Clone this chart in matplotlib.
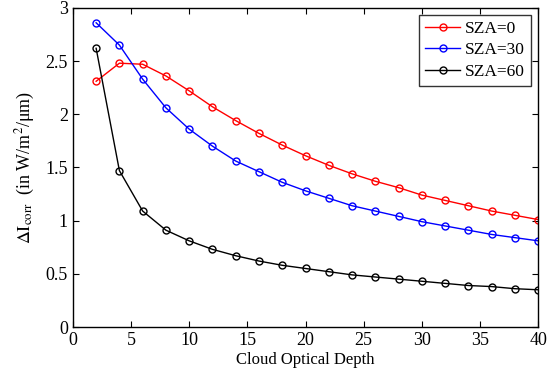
import matplotlib
matplotlib.use("Agg")
import matplotlib.pyplot as plt

plt.rcParams['font.family'] = ['Liberation Serif', 'DejaVu Serif']
plt.rcParams['mathtext.fontset'] = 'stix'

depth = [2, 4, 6, 8, 10, 12, 14, 16, 18, 20, 22, 24, 26, 28, 30, 32, 34, 36, 38, 40]
sza0 = [2.31, 2.48, 2.47, 2.36, 2.22, 2.07, 1.94, 1.82, 1.71, 1.61, 1.52, 1.44, 1.37, 1.31, 1.24, 1.19, 1.14, 1.09, 1.05, 1.01]
sza30 = [2.86, 2.65, 2.33, 2.06, 1.86, 1.70, 1.56, 1.46, 1.36, 1.28, 1.21, 1.14, 1.09, 1.04, 0.99, 0.95, 0.91, 0.87, 0.84, 0.81]
sza60 = [2.62, 1.47, 1.09, 0.91, 0.81, 0.73, 0.67, 0.62, 0.58, 0.55, 0.52, 0.49, 0.47, 0.45, 0.43, 0.41, 0.39, 0.38, 0.36, 0.35]
labels = ['SZA=0', 'SZA=30', 'SZA=60']
colors = ['#ff0000', '#0000ff', '#000000']

fig = plt.figure(figsize=(5.52, 3.75), dpi=100)
ax = fig.add_axes([0.132, 0.128, 0.843, 0.851])
for ys, lab, c in zip([sza0, sza30, sza60], labels, colors):
    ax.plot(depth, ys, '-o', color=c, mfc='none', mec=c, ms=5, mew=1.0, lw=1.0, label=lab)

ax.set_xlim(0, 40)
ax.set_ylim(0, 3)
ax.set_xticks([0, 5, 10, 15, 20, 25, 30, 35, 40])
ax.set_yticks([0, 0.5, 1, 1.5, 2, 2.5, 3])
ax.set_yticklabels(['0', '0.5', '1', '1.5', '2', '2.5', '3'])
ax.tick_params(direction='in', top=True, right=True, labelsize=13, length=4, width=0.8)
for s in ax.spines.values():
    s.set_linewidth(1.0)
ax.set_xlabel('Cloud Optical Depth', fontsize=12, labelpad=2)
ax.set_ylabel(r'$\Delta\mathrm{I}_{\mathrm{corr}}$  (in W/m$^2$/μm)', fontsize=13, labelpad=6)
leg = ax.legend(loc='upper right', fontsize=12.5, fancybox=False, edgecolor='black',
                handlelength=2.0, borderpad=0.35, labelspacing=0.3, handletextpad=0.3,
                borderaxespad=0.4)
leg.get_frame().set_linewidth(1.0)
fig.savefig('out.png', dpi=100)
